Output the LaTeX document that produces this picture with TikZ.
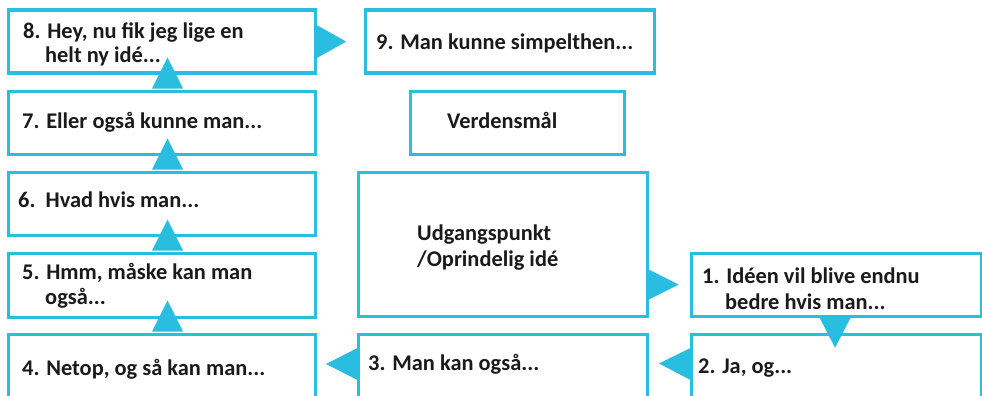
\documentclass[tikz,border=0pt]{standalone}
\usepackage{fontspec}
\setmainfont{Carlito}
\usetikzlibrary{calc}
\definecolor{cy}{HTML}{29BDE0}
\definecolor{ink}{HTML}{1A1A1A}
\begin{document}
\begin{tikzpicture}[x=1pt,y=-1pt,
  box/.style={draw=cy,line width=3.2pt,rectangle,inner sep=0pt,anchor=north west,fill=white},
  txt/.style={anchor=base west,inner sep=0pt,text=ink,font=\fontsize{22.4}{26}\selectfont\bfseries},
  tri/.style={fill=cy,draw=none}]
\useasboundingbox (0,0) rectangle (982,396);
\clip (0,0) rectangle (982,396);
\fill[white] (0,0) rectangle (982,396);
% left column
\node[box,minimum width=307pt,minimum height=63pt] (b8) at (6.5,8.5) {};
\node[box,minimum width=307pt,minimum height=63pt] (b7) at (6.5,89.5) {};
\node[box,minimum width=307pt,minimum height=63pt] (b6) at (6.5,170.5) {};
\node[box,minimum width=307pt,minimum height=64pt] (b5) at (6.5,251.5) {};
\node[box,minimum width=307pt,minimum height=80pt] (b4) at (6.5,332.5) {};
% middle column
\node[box,minimum width=289pt,minimum height=63pt] (b9) at (363.5,8.5) {};
\node[box,minimum width=214pt,minimum height=63pt] (bv) at (408.5,89.5) {};
\node[box,minimum width=289pt,minimum height=144pt] (bu) at (356.5,170.5) {};
\node[box,minimum width=289pt,minimum height=80pt] (b3) at (356.5,332.5) {};
% right column
\node[box,minimum width=290pt,minimum height=63pt] (b1) at (689.5,251.5) {};
\node[box,minimum width=290pt,minimum height=80pt] (b2) at (689.5,332.5) {};
% texts
\node[txt] (t8a) at (23,39) {8. Hey, nu fik jeg lige en};
\node[txt] (t8b) at (45,63) {helt ny idé...};
\node[txt] (t9) at (376,49) {9. Man kunne simpelthen...};
\node[txt] (t7) at (22,128) {7. Eller også kunne man...};
\node[txt] (tv) at (447,128) {Verdensmål};
\node[txt] (t6) at (18,207) {6.\ \ Hvad hvis man...};
\node[txt] (tua) at (417,240) {Udgangspunkt};
\node[txt] (tub) at (417,266) {/Oprindelig idé};
\node[txt] (t5a) at (22,279) {5. Hmm, måske kan man};
\node[txt] (t5b) at (45,304) {også...};
\node[txt] (t1a) at (702,283) {1. Idéen vil blive endnu};
\node[txt] (t1b) at (725,309) {bedre hvis man...};
\node[txt] (t4) at (22,375) {4. Netop, og så kan man...};
\node[txt] (t3) at (368,370) {3. Man kan også...};
\node[txt] (t2) at (698,373) {2. Ja, og...};
% arrow triangles
\fill[tri] ($(b8.east)+(0,-16.5)$) -- ($(b8.east)+(0,16.5)$) -- ($(b8.east)+(29.5,0)$) -- cycle;
\foreach \n in {b7,b6,b5,b4}{
  \fill[tri] ($(\n.north)+(-9.5,-1)$) -- ($(\n.north)+(21.5,-1)$) -- ($(\n.north)+(6,-32)$) -- cycle;
}
\fill[tri] ($(b3.north west)+(1,15.5)$) -- ($(b3.north west)+(1,47.5)$) -- ($(b3.north west)+(-30.5,31.5)$) -- cycle;
\fill[tri] ($(b2.north west)+(1,15.5)$) -- ($(b2.north west)+(1,47.5)$) -- ($(b2.north west)+(-30.5,31)$) -- cycle;
\fill[tri] ($(bu.east |- b1.west)+(0,-15)$) -- ($(bu.east |- b1.west)+(0,15)$) -- ($(bu.east |- b1.west)+(30,0)$) -- cycle;
\fill[tri] ($(b1.south)+(-16.5,0)$) -- ($(b1.south)+(14.5,0)$) -- ($(b1.south)+(-1,30)$) -- cycle;
\end{tikzpicture}
\end{document}
